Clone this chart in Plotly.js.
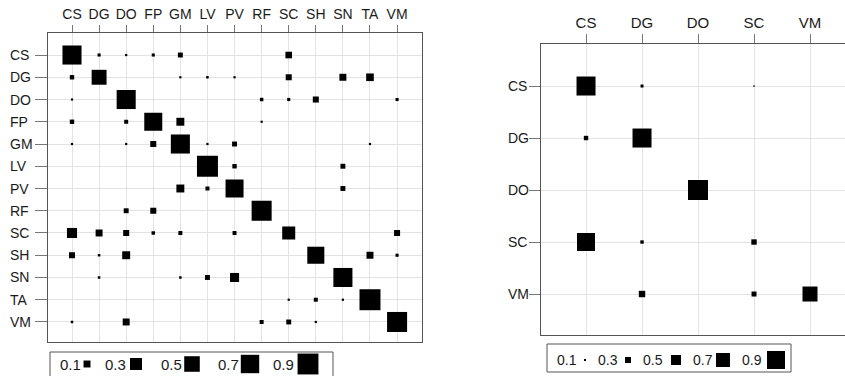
<!DOCTYPE html>
<html>
<head>
<meta charset="utf-8">
<script src="https://cdn.plot.ly/plotly-3.0.1.min.js"></script>
<style>html,body{margin:0;padding:0;background:#fff;}#chart{width:845px;height:376px;}</style>
</head>
<body>
<div id="chart"></div>
<script>
// ---- data ----
const leftLabels = ['CS','DG','DO','FP','GM','LV','PV','RF','SC','SH','SN','TA','VM'];
const leftCS = [0.75,0.02,0.01,0.02,0.05,0,0,0,0.09,0,0,0,0];
const leftDG = [0.04,0.46,0,0,0.01,0.013,0.01,0,0.075,0,0.10,0.12,0];
const leftDO = [0.01,0,0.75,0,0,0,0,0.025,0.02,0.075,0,0,0.02];
const leftFP = [0.04,0,0.033,0.67,0.13,0,0,0.01,0,0,0,0,0];
const leftGM = [0.01,0,0.01,0.075,0.75,0.01,0.05,0,0,0,0,0.01,0];
const leftLV = [0,0,0,0,0,0.91,0.04,0,0,0,0.05,0,0];
const leftPV = [0,0,0,0,0.13,0.033,0.67,0,0,0,0.05,0,0];
const leftRF = [0,0,0.05,0.075,0,0,0,0.83,0,0,0,0,0];
const leftSC = [0.21,0.10,0.075,0.025,0.033,0,0.033,0,0.35,0,0,0,0.075];
const leftSH = [0.075,0.013,0.13,0,0,0,0,0,0,0.6,0,0.10,0.02];
const leftSN = [0,0.013,0,0,0.013,0.05,0.17,0,0,0,0.75,0,0];
const leftTA = [0,0,0,0,0,0,0,0,0.01,0.033,0.01,0.91,0];
const leftVM = [0.013,0,0.10,0,0,0,0,0.033,0.05,0.01,0,0,0.83];

const rightLabels = ['CS','DG','DO','SC','VM'];
const rightCS = [0.95,0.15,0,0.07,0];
const rightDG = [0.22,0.95,0,0,0];
const rightDO = [0,0,1.0,0,0];
const rightSC = [0.9,0.17,0,0.27,0];
const rightVM = [0,0.32,0,0.25,0.75];

const legendValues = [0.1,0.3,0.5,0.7,0.9];
const legendTexts = ['0.1','0.3','0.5','0.7','0.9'];

// ---- build ----
const leftRows = [leftCS,leftDG,leftDO,leftFP,leftGM,leftLV,leftPV,leftRF,leftSC,leftSH,leftSN,leftTA,leftVM];
const rightRows = [rightCS,rightDG,rightDO,rightSC,rightVM];

function cells(labels, rows){
  const x=[],y=[],s=[];
  rows.forEach((row,i)=>row.forEach((v,j)=>{ if(v>0){ x.push(labels[j]); y.push(labels[i]); s.push(v);} }));
  return {x,y,s};
}
const L = cells(leftLabels,leftRows);
const R = cells(rightLabels,rightRows);

const W=845,H=376;
const px = v=>v/W, py = v=>1-v/H;
const FONT = 'Liberation Sans, Arial, sans-serif';
const TXT = '#1a1a1a';

// legend layout (pixel positions)
const leftLegX = [87,136,192,250,308], leftLegTX=[70,116,171,228,283], leftLegY = 364;
const rightLegX = [585,628,676,723,776], rightLegTX=[567,608,653,703,752], rightLegY = 360;

const leftRef = 1/242;   // area mode -> side = 22*sqrt(v)
const rightRef = 1/20;   // diameter mode -> side = 20*v

const mk = (size,mode,ref)=>({symbol:'square',color:'#000',opacity:1,size:size,sizemode:mode,sizeref:ref,line:{width:0}});
const traces = [
  {type:'scatter',mode:'markers',x:L.x,y:L.y,xaxis:'x',yaxis:'y',marker:mk(L.s,'area',leftRef),hoverinfo:'skip',cliponaxis:false},
  {type:'scatter',mode:'markers',x:R.x,y:R.y,xaxis:'x2',yaxis:'y2',marker:mk(R.s,'diameter',rightRef),hoverinfo:'skip',cliponaxis:false},
  {type:'scatter',mode:'markers',x:leftLegX,y:leftLegX.map(()=>leftLegY),xaxis:'x3',yaxis:'y3',marker:mk(legendValues,'area',leftRef),hoverinfo:'skip',cliponaxis:false},
  {type:'scatter',mode:'markers',x:rightLegX,y:rightLegX.map(()=>rightLegY),xaxis:'x3',yaxis:'y3',marker:mk(legendValues,'diameter',rightRef),hoverinfo:'skip',cliponaxis:false}
];

const grid = '#e3e3e3', frame='#555', tick='#777';
const annotations = [];
leftLabels.forEach((t,i)=>annotations.push({xref:'paper',yref:'y',x:px(8),y:i,text:t,showarrow:false,xanchor:'left',yanchor:'middle',font:{family:FONT,size:14,color:TXT}}));
rightLabels.forEach((t,i)=>annotations.push({xref:'paper',yref:'y2',x:px(506),y:i,text:t,showarrow:false,xanchor:'left',yanchor:'middle',font:{family:FONT,size:14,color:TXT}}));
legendTexts.forEach((t,i)=>annotations.push({xref:'paper',yref:'paper',x:px(leftLegTX[i]),y:py(leftLegY),text:t,showarrow:false,xanchor:'center',yanchor:'middle',font:{family:FONT,size:15,color:TXT}}));
legendTexts.forEach((t,i)=>annotations.push({xref:'paper',yref:'paper',x:px(rightLegTX[i]),y:py(rightLegY),text:t,showarrow:false,xanchor:'center',yanchor:'middle',font:{family:FONT,size:14,color:TXT}}));

const layout = {
  width:W,height:H,margin:{l:0,r:0,t:0,b:0},
  paper_bgcolor:'#fff',plot_bgcolor:'rgba(0,0,0,0)',
  showlegend:false,hovermode:false,
  font:{family:FONT,color:TXT},
  xaxis:{domain:[px(48),px(422)],anchor:'y',type:'category',categoryarray:leftLabels,range:[-0.886,12.92],side:'top',
    showgrid:true,gridcolor:grid,zeroline:false,showline:true,mirror:true,linecolor:frame,linewidth:1,
    ticks:'outside',ticklen:7,tickcolor:tick,tickfont:{family:FONT,size:14,color:TXT},fixedrange:true},
  yaxis:{domain:[py(342),py(33)],anchor:'x',type:'category',categoryarray:leftLabels,range:[12.9,-0.99],
    showgrid:true,gridcolor:grid,zeroline:false,showline:true,mirror:true,linecolor:frame,linewidth:1,
    ticks:'outside',ticklen:12,tickcolor:tick,showticklabels:false,fixedrange:true},
  xaxis2:{domain:[px(541),1],anchor:'y2',type:'category',categoryarray:rightLabels,range:[-0.804,4.625],side:'top',
    showgrid:true,gridcolor:grid,zeroline:false,showline:true,mirror:true,linecolor:frame,linewidth:1,
    ticks:'outside',ticklen:9,tickcolor:tick,tickfont:{family:FONT,size:15,color:TXT},fixedrange:true},
  yaxis2:{domain:[py(335),py(44)],anchor:'x2',type:'category',categoryarray:rightLabels,range:[4.788,-0.808],
    showgrid:true,gridcolor:grid,zeroline:false,showline:true,mirror:false,linecolor:frame,linewidth:1,
    ticks:'outside',ticklen:11,tickcolor:tick,showticklabels:false,fixedrange:true},
  xaxis3:{domain:[0,1],anchor:'y3',range:[0,W],visible:false,fixedrange:true},
  yaxis3:{domain:[0,1],anchor:'x3',range:[H,0],visible:false,fixedrange:true},
  shapes:[
    {type:'rect',xref:'paper',yref:'paper',x0:px(50),x1:px(333),y0:py(352),y1:py(380),line:{color:frame,width:1},fillcolor:'rgba(0,0,0,0)'},
    {type:'rect',xref:'paper',yref:'paper',x0:px(547),x1:px(791),y0:py(344),y1:py(372),line:{color:frame,width:1},fillcolor:'rgba(0,0,0,0)'}
  ],
  annotations
};

Plotly.newPlot('chart',traces,layout,{displayModeBar:false,staticPlot:true});
</script>
</body>
</html>
